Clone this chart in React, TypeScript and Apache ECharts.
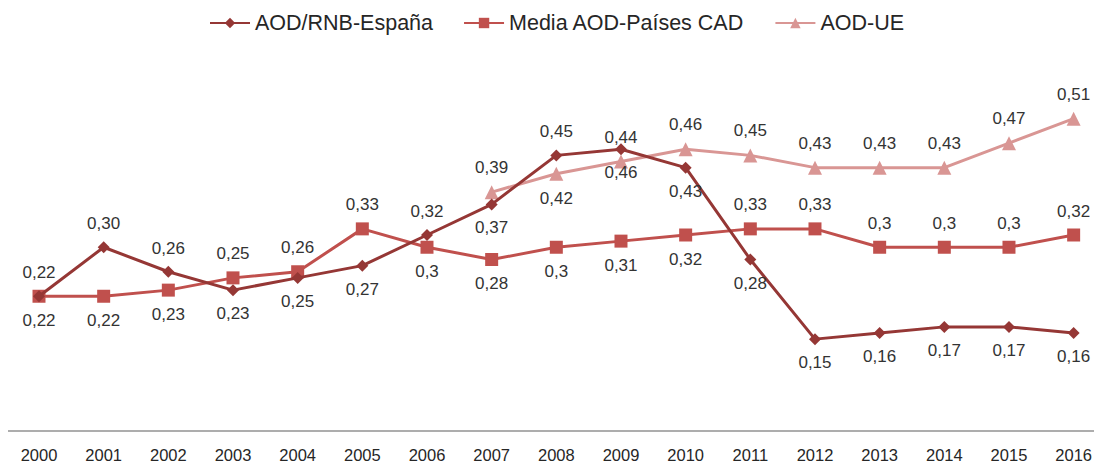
import React, { useEffect, useRef } from "react";
import * as echarts from "echarts";

const years = ["2000","2001","2002","2003","2004","2005","2006","2007","2008","2009","2010","2011","2012","2013","2014","2015","2016"];
const espana = [0.22,0.30,0.26,0.23,0.25,0.27,0.32,0.37,0.45,0.46,0.43,0.28,0.15,0.16,0.17,0.17,0.16];
const cad = [0.22,0.22,0.23,0.25,0.26,0.33,0.30,0.28,0.30,0.31,0.32,0.33,0.33,0.30,0.30,0.30,0.32];
const ue = [null,null,null,null,null,null,null,0.39,0.42,0.44,0.46,0.45,0.43,0.43,0.43,0.47,0.51];
const seriesNames = ["AOD/RNB-España", "Media AOD-Países CAD", "AOD-UE"];

// label placement (style only)
const espPos = ["top","top","top","bottom","bottom","bottom","top","bottom","top","bottom","bottom","bottom","bottom","bottom","bottom","bottom","bottom"];
const cadPos = ["bottom","bottom","bottom","top","top","top","bottom","bottom","bottom","bottom","bottom","top","top","top","top","top","top"];
const uePos = ["top","top","top","top","top","top","top","top","bottom","top","top","top","top","top","top","top","top"];

const FONT = "'Liberation Sans', Arial, sans-serif";
const LABEL_COLOR = "#333333";

function withPos(vals: (number | null)[], pos: string[]) {
  return vals.map((v, i) => (v == null ? null : { value: v, label: { position: pos[i] } }));
}

export default function App() {
  const ref = useRef<HTMLDivElement>(null);
  useEffect(() => {
    if (!ref.current) return;
    const chart = echarts.init(ref.current, null, { renderer: "svg" });
    const labelBase = {
      show: true,
      fontFamily: FONT,
      fontSize: 17,
      color: LABEL_COLOR,
      distance: 9,
    };
    chart.setOption({
      animation: false,
      backgroundColor: "#ffffff",
      textStyle: { fontFamily: FONT },
      legend: {
        top: 7,
        left: 204,
        itemWidth: 40,
        itemHeight: 13,
        itemGap: 30,
        textStyle: { fontFamily: FONT, fontSize: 21.5, color: "#262626" },
        data: seriesNames,
      },
      grid: { left: 39, right: 20, top: 63.5, bottom: 33, containLabel: false },
      xAxis: {
        type: "category",
        data: years,
        boundaryGap: false,
        axisLine: { show: false },
        axisTick: { show: false },
        axisLabel: { fontFamily: FONT, fontSize: 16.5, color: "#262626", margin: 15, interval: 0 },
      },
      yAxis: {
        type: "value",
        min: 0,
        max: 0.6,
        show: false,
        splitLine: { show: false },
      },
      graphic: [
        {
          type: "line",
          shape: { x1: 8, y1: 431, x2: 1094, y2: 431 },
          style: { stroke: "#ADADAD", lineWidth: 2 },
          silent: true,
        },
      ],
      series: [
        {
          name: seriesNames[0],
          type: "line",
          data: withPos(espana, espPos),
          symbol: "diamond",
          symbolSize: 12,
          z: 4,
          lineStyle: { color: "#953735", width: 3 },
          itemStyle: { color: "#953735" },
          label: { ...labelBase, formatter: (p: any) => Number(p.value).toFixed(2).replace(".", ",") },
        },
        {
          name: seriesNames[1],
          type: "line",
          data: withPos(cad, cadPos),
          symbol: "rect",
          symbolSize: 13,
          z: 3,
          lineStyle: { color: "#C0504D", width: 3 },
          itemStyle: { color: "#C0504D" },
          label: { ...labelBase, formatter: (p: any) => String(p.value).replace(".", ",") },
        },
        {
          name: seriesNames[2],
          type: "line",
          data: withPos(ue, uePos),
          symbol: "triangle",
          symbolSize: 14,
          z: 2,
          lineStyle: { color: "#D99694", width: 3 },
          itemStyle: { color: "#D99694" },
          label: { ...labelBase, formatter: (p: any) => String(p.value).replace(".", ",") },
        },
      ],
    });
    return () => chart.dispose();
  }, []);
  return <div ref={ref} style={{ position: "fixed", left: 0, top: 0, width: 1095, height: 464 }} />;
}
